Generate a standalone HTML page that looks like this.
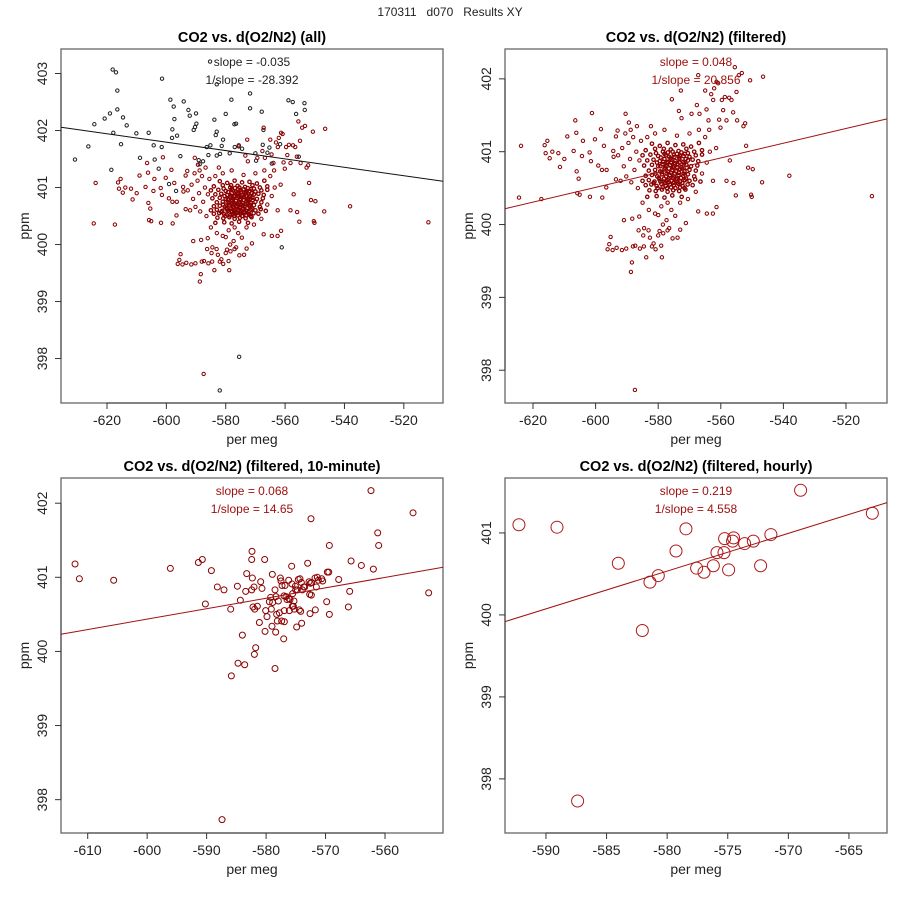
<!DOCTYPE html>
<html><head><meta charset="utf-8"><style>
body{margin:0;background:#fff;}
svg text{font-family:"Liberation Sans",sans-serif;}
</style></head><body>
<svg id="chart" width="900" height="900" viewBox="0 0 900 900" xmlns="http://www.w3.org/2000/svg">
<rect width="900" height="900" fill="#fff"/>
<text x="450" y="16" text-anchor="middle" font-size="12" fill="#222" xml:space="preserve">170311   d070   Results XY</text>
</svg>
<script>
// ---- data (data units: x = per meg, y = ppm) ----
const outlierPts = [[-630.79,401.49],[-626.29,401.72],[-624.27,402.11],[-620.79,402.21],[-619.0,402.30],[-618.09,403.07],[-616.97,403.02],[-617.87,401.96],[-616.52,402.70],[-616.52,402.37],[-615.28,401.76],[-614.61,402.23],[-613.37,402.09],[-618.54,401.31],[-610.11,401.95],[-608.88,401.52],[-605.96,401.96],[-604.27,401.74],[-603.93,401.49],[-602.58,401.33],[-601.57,401.71],[-601.46,402.91],[-599.10,401.06],[-598.65,402.54],[-598.09,401.87],[-597.98,402.02],[-597.53,402.42],[-597.30,402.20],[-596.40,401.91],[-596.74,400.94],[-595.28,401.55],[-594.16,402.51],[-592.58,402.36],[-592.13,402.26],[-590.79,402.01],[-590.34,402.06],[-589.89,402.12],[-590.00,402.30],[-589.10,401.48],[-588.76,401.41],[-587.64,401.46],[-586.40,401.71],[-585.84,401.57],[-585.17,401.74],[-583.82,402.19],[-583.37,401.92],[-583.03,401.98],[-583.03,401.56],[-581.91,401.59],[-580.90,401.84],[-581.35,401.73],[-580.00,402.29],[-578.65,401.60],[-578.09,402.54],[-577.08,402.11],[-576.52,402.12],[-576.97,401.71],[-575.60,401.74],[-575.49,398.03],[-574.49,401.68],[-571.80,402.65],[-571.80,402.39],[-570.00,401.60],[-569.78,401.47],[-567.87,402.33],[-567.53,401.75],[-567.30,402.01],[-565.96,401.61],[-565.28,401.70],[-564.49,401.42],[-561.68,401.76],[-561.12,399.95],[-558.88,402.53],[-557.42,402.50],[-556.29,402.29],[-555.39,401.54],[-553.48,402.48],[-553.37,402.36],[-582.02,397.44],[-585.28,403.21],[-583.03,402.81]];

const filteredOuter = [[-624.47,400.37],[-623.83,401.08],[-617.34,400.35],[-616.28,401.09],[-615.96,400.98],[-615.42,401.15],[-614.68,400.91],[-613.83,401.00],[-611.91,400.98],[-611.38,400.79],[-610.00,400.90],[-609.04,401.21],[-607.02,401.01],[-606.49,401.43],[-606.17,401.26],[-606.06,400.73],[-605.85,400.43],[-605.42,400.63],[-605.10,400.41],[-604.36,400.94],[-604.04,401.15],[-601.91,400.99],[-601.81,400.38],[-601.49,400.87],[-601.17,401.53],[-600.21,401.17],[-599.15,400.81],[-598.30,401.31],[-597.97,400.75],[-597.87,400.37],[-597.34,401.08],[-596.59,400.51],[-596.49,400.75],[-596.17,399.66],[-595.63,399.73],[-595.21,399.83],[-594.57,399.65],[-594.36,401.01],[-594.25,400.93],[-593.51,401.21],[-593.29,399.68],[-592.97,401.29],[-591.59,399.65],[-590.95,400.06],[-590.42,401.52],[-590.21,399.67],[-589.36,401.40],[-588.40,399.48],[-588.72,399.35],[-588.29,400.08],[-588.08,399.70],[-587.44,397.73],[-587.33,399.71],[-586.27,399.92],[-586.06,400.11],[-585.85,399.67],[-584.78,399.85],[-584.57,399.70],[-583.83,399.55],[-583.08,399.92],[-582.65,399.82],[-582.33,401.35],[-581.48,399.74],[-580.84,399.66],[-579.99,400.13],[-579.57,399.91],[-579.04,399.71],[-578.82,399.55],[-578.40,399.88],[-577.34,400.06],[-577.02,399.92],[-575.63,401.72],[-575.41,399.81],[-574.56,400.12],[-573.82,399.82],[-573.39,401.56],[-572.76,401.84],[-572.55,401.46],[-572.97,399.93],[-571.16,400.02],[-569.35,401.52],[-567.65,401.64],[-567.22,400.18],[-566.80,401.52],[-564.99,401.84],[-564.56,401.58],[-564.46,400.15],[-563.93,401.43],[-563.71,401.30],[-563.07,401.79],[-562.54,400.15],[-562.44,401.71],[-562.12,401.87],[-561.37,400.24],[-560.84,401.94],[-560.52,401.44],[-560.10,401.33],[-559.67,401.71],[-559.25,401.57],[-558.71,401.75],[-558.18,401.43],[-558.18,400.60],[-557.33,401.74],[-557.12,400.88],[-556.59,401.71],[-556.05,401.54],[-555.95,400.57],[-555.52,402.16],[-555.20,400.40],[-554.99,401.82],[-554.78,401.43],[-554.24,402.05],[-553.29,402.08],[-552.76,401.35],[-552.22,401.39],[-551.91,401.08],[-551.27,400.78],[-550.64,401.98],[-550.32,400.41],[-550.11,400.38],[-549.79,400.76],[-546.81,400.58],[-546.50,402.03],[-538.10,400.67],[-511.72,400.39],[-567.22,402.05],[-561.37,401.96],
[-593.5,400.62],[-592.8,400.95],[-592,400.6],[-591.5,401.05],[-591,400.8],[-590.2,400.66],[-589.5,401.12],[-589,400.9],[-588.6,400.58],[-588,401.2],[-587.6,400.75],[-587,401.0],[-586.5,400.5],[-586,400.88],[-585.5,401.15],[-590.5,401.25],[-588.8,401.3],[-586.8,401.35],[-585,400.3],[-583,400.2],[-581,400.15],[-579,400.25],[-577,400.3],[-575.8,400.2],[-573,400.3],[-570.5,400.35],[-568,400.45],[-566,400.7],[-564.5,400.85],[-563.5,401.0],[-562.5,400.6],[-561.5,401.05],[-565,401.2],[-567,401.3],[-570,401.25],[-574,401.22],[-578,401.3],[-581,401.25],[-583.5,401.2],[-584.5,399.95],[-582,399.7],[-580,399.85],[-578.5,400.0],[-576.5,399.95]];

const filteredCore = [[-582,401.11],[-579.5,401.08],[-577,401.12],[-574.5,401.09],[-572,401.1],[-569.5,401.07],[-567,401.12],
[-584,401.02],[-581,401.04],[-578.5,401.0],[-576,401.03],[-573.5,401.01],[-571,401.04],[-568.5,401.0],[-566,401.02],
[-585,400.95],[-582.5,400.96],[-580,400.94],[-578,400.97],[-576.5,400.93],[-575,400.96],[-573,400.94],[-571.5,400.97],[-570,400.93],[-568,400.95],[-566,400.96],
[-583.5,400.88],[-581.5,400.89],[-579.5,400.87],[-578,400.9],[-577,400.86],[-575.8,400.89],[-574.5,400.87],[-573.2,400.9],[-572,400.86],[-570.5,400.88],[-569,400.89],[-567.2,400.87],
[-584.5,400.81],[-582,400.82],[-580,400.8],[-578.6,400.83],[-577.4,400.8],[-576.2,400.82],[-575,400.8],[-573.8,400.83],[-572.6,400.79],[-571,400.82],[-569.5,400.8],[-567.5,400.81],
[-583,400.74],[-581,400.75],[-579.4,400.73],[-578,400.76],[-576.8,400.72],[-575.5,400.75],[-574.3,400.73],[-573,400.76],[-571.6,400.73],[-570,400.75],[-568,400.74],
[-584,400.67],[-582,400.68],[-580.3,400.66],[-578.8,400.69],[-577.5,400.66],[-576.3,400.68],[-575,400.66],[-573.5,400.68],[-572,400.67],[-570.5,400.69],[-568.5,400.66],
[-585,400.6],[-583,400.61],[-581.2,400.59],[-579.6,400.62],[-578.2,400.59],[-577,400.61],[-575.7,400.6],[-574.4,400.62],[-573,400.59],[-571.5,400.61],[-570,400.6],[-568.2,400.62],[-566.5,400.59],
[-584,400.54],[-582.2,400.55],[-580.5,400.53],[-579,400.56],[-577.6,400.53],[-576.3,400.55],[-575,400.54],[-573.6,400.56],[-572.2,400.53],[-570.6,400.55],[-569,400.54],
[-582.8,400.47],[-580.8,400.46],[-578.8,400.48],[-577,400.45],[-575.2,400.47],[-573.3,400.46],[-571.3,400.48],
[-583.5,400.38],[-580.5,400.39],[-578,400.37],[-575.5,400.4],[-572.5,400.38]];

const filteredCoreDense = [[-580.7,400.98],[-579.2,400.92],[-578.2,401.04],[-577.6,400.95],[-576.9,400.99],[-576.1,400.91],[-575.4,401.0],[-574.8,400.93],[-574.0,400.97],[-573.3,400.92],[-572.6,400.99],[-571.9,400.94],[-571.2,400.9],[-570.5,400.98],
[-580.4,400.85],[-579.3,400.8],[-578.4,400.86],[-577.8,400.78],[-577.1,400.84],[-576.6,400.77],[-575.9,400.85],[-575.2,400.78],[-574.6,400.84],[-573.9,400.78],[-573.2,400.85],[-572.4,400.77],[-571.7,400.84],[-570.9,400.78],
[-580.9,400.7],[-579.8,400.64],[-578.9,400.72],[-578.1,400.63],[-577.3,400.7],[-576.7,400.63],[-576.0,400.71],[-575.3,400.64],[-574.7,400.7],[-574.0,400.63],[-573.4,400.71],[-572.7,400.64],[-571.9,400.7],[-571.1,400.63],
[-581.5,400.57],[-580.2,400.5],[-579.3,400.59],[-578.6,400.51],[-577.9,400.57],[-577.2,400.5],[-576.6,400.58],[-575.9,400.51],[-575.2,400.57],[-574.5,400.5],[-573.8,400.58],[-573.0,400.51],[-572.3,400.57],[-571.6,400.5]];

const tenMinX = [-612.13,-611.40,-605.63,-596.10,-591.39,-590.72,-590.21,-589.20,-588.20,-587.08,-587.41,-585.95,-585.84,-584.83,-584.72,-584.33,-583.99,-583.60,-583.43,-583.26,-582.42,-582.37,-582.31,-582.42,-582.20,-582.03,-581.97,-581.92,-581.75,-581.47,-581.13,-580.91,-580.69,-580.24,-580.18,-580.07,-579.85,-579.45,-579.23,-579.12,-579.01,-578.95,-578.90,-578.50,-578.50,-578.39,-578.34,-578.22,-578.11,-577.94,-577.77,-577.60,-577.49,-577.38,-577.32,-577.04,-576.99,-576.93,-576.93,-576.82,-576.65,-576.48,-576.20,-576.15,-576.09,-575.98,-575.70,-575.64,-575.59,-575.53,-575.42,-575.31,-575.25,-575.08,-575.03,-574.86,-574.74,-574.58,-574.41,-574.30,-574.18,-574.07,-574.02,-573.90,-573.68,-573.51,-573.01,-572.78,-572.67,-572.61,-572.56,-572.45,-572.39,-572.34,-571.77,-571.72,-571.55,-571.38,-571.21,-570.65,-570.48,-569.81,-569.70,-569.47,-569.36,-569.36,-567.79,-566.16,-565.94,-565.71,-563.98,-562.36,-561.96,-561.23,-561.07,-555.29,-552.66];
const tenMinY = [401.18,400.98,400.96,401.12,401.20,401.24,400.64,401.09,400.87,400.83,397.73,400.57,399.67,400.88,399.84,400.69,400.22,399.82,400.81,401.05,401.24,401.35,400.99,400.83,400.60,400.87,399.96,400.57,400.05,400.61,400.39,400.94,400.85,401.24,400.27,400.55,400.47,400.67,400.73,400.57,400.34,401.04,400.66,400.83,399.77,400.26,400.74,400.50,400.41,400.68,400.52,400.99,400.95,400.41,400.89,400.17,400.75,400.55,400.40,400.89,400.74,400.70,400.96,400.71,400.55,400.70,401.15,400.91,400.61,400.78,400.61,400.68,400.57,400.88,400.83,400.33,400.83,400.97,400.56,400.98,400.54,400.93,400.38,400.83,400.87,400.87,401.19,400.94,400.77,400.51,400.92,401.79,400.76,400.93,400.99,400.56,400.87,401.00,400.96,400.98,400.95,400.67,401.07,401.07,401.43,400.50,400.97,400.60,400.81,401.22,401.16,402.17,401.11,401.60,401.43,401.87,400.79];

const hourlyX = [-592.23,-589.09,-578.45,-584.03,-579.27,-580.73,-581.42,-582.05,-587.39,-577.57,-576.96,-576.19,-575.89,-575.31,-575.26,-574.93,-574.60,-574.52,-573.61,-572.89,-572.29,-571.44,-568.99,-563.07];
const hourlyY = [401.10,401.07,401.05,400.63,400.78,400.48,400.40,399.81,397.73,400.57,400.52,400.60,400.76,400.76,400.93,400.55,400.90,400.94,400.87,400.90,400.60,400.98,401.52,401.24];

const xTicksWide = [-620,-600,-580,-560,-540,-520];
const xTicks10 = [-610,-600,-590,-580,-570,-560];
const xTicksHourly = [-590,-585,-580,-575,-570,-565];
const yTicksAll = [398,399,400,401,402,403];
const yTicksFilt = [398,399,400,401,402];
const yTicksHourly = [398,399,400,401];

const lineSlopes = [-0.00737, 0.01011, 0.01407, 0.04607];
const lineIntercepts = [397.374, 406.576, 408.878, 427.255];
const slopeLabels = ["slope = -0.035","slope = 0.048","slope = 0.068","slope = 0.219"];
const invSlopeLabels = ["1/slope = -28.392","1/slope = 20.856","1/slope = 14.65","1/slope = 4.558"];
const panelTitles = ["CO2 vs. d(O2/N2) (all)","CO2 vs. d(O2/N2) (filtered)","CO2 vs. d(O2/N2) (filtered, 10-minute)","CO2 vs. d(O2/N2) (filtered, hourly)"];

// ---- drawing ----
const NS = "http://www.w3.org/2000/svg";
const svg = document.getElementById("chart");
const RED = "#8b0000";
function mk(tag, attrs, parent){
  const e = document.createElementNS(NS, tag);
  for (const k in attrs) e.setAttribute(k, attrs[k]);
  (parent||svg).appendChild(e);
  return e;
}
const panels = [
  {box:[61,49,443,403], xd:[-635.5,-506.8], yd:[397.22,403.43], xt:xTicksWide, yt:yTicksAll, r:1.7, txt:"#222", lc:"#111"},
  {box:[505,49,887,403], xd:[-628.95,-506.9], yd:[397.55,402.41], xt:xTicksWide, yt:yTicksFilt, r:1.7, txt:"#a01010", lc:"#a01010"},
  {box:[61,478,443,833], xd:[-614.49,-550.25], yd:[397.55,402.34], xt:xTicks10, yt:yTicksFilt, r:3, txt:"#a01010", lc:"#a01010"},
  {box:[505,478,887,833], xd:[-593.38,-561.86], yd:[397.34,401.67], xt:xTicksHourly, yt:yTicksHourly, r:6, txt:"#a01010", lc:"#a01010"}
];
panels.forEach((p, i) => {
  const [x0,y0,x1,y1] = p.box;
  const sx = v => x0 + (v - p.xd[0]) / (p.xd[1]-p.xd[0]) * (x1-x0);
  const sy = v => y1 - (v - p.yd[0]) / (p.yd[1]-p.yd[0]) * (y1-y0);
  const g = mk("g", {});
  
  
  const cx = (x0+x1)/2;
  const t = mk("text", {x:cx, y:y0-7, "text-anchor":"middle", "font-size":"14.5", "font-weight":"bold", fill:"#000"}, g);
  t.textContent = panelTitles[i];
  
  
  const bx = mk("rect", {x:x0, y:y0, width:x1-x0, height:y1-y0, fill:"none", stroke:"#666", "stroke-width":"1.3"}, g);
  
  
  const xa = mk("g", {}, g);
  
  
  mk("line", {x1:sx(p.xt[0]), x2:sx(p.xt[p.xt.length-1]), y1:y1, y2:y1, stroke:"#333"}, xa);
  p.xt.forEach(v => {
    mk("line", {x1:sx(v), x2:sx(v), y1:y1, y2:y1+6, stroke:"#333"}, xa);
    const tl = mk("text", {x:sx(v), y:y1+22, "text-anchor":"middle", "font-size":"14", fill:"#222"}, xa);
    tl.textContent = String(v);
    
    
  });
  const xl = mk("text", {x:cx, y:y1+41, "text-anchor":"middle", "font-size":"14", fill:"#222"}, g);
  xl.textContent = "per meg";
  
  
  const ya = mk("g", {}, g);
  
  
  mk("line", {x1:x0, x2:x0, y1:sy(p.yt[0]), y2:sy(p.yt[p.yt.length-1]), stroke:"#333"}, ya);
  p.yt.forEach(v => {
    mk("line", {x1:x0, x2:x0-6, y1:sy(v), y2:sy(v), stroke:"#333"}, ya);
    const tx = x0-14, ty = sy(v);
    const tl = mk("text", {x:tx, y:ty, "text-anchor":"middle", "font-size":"14", fill:"#222", transform:`rotate(-90 ${tx} ${ty})`}, ya);
    tl.textContent = String(v);
    
    
  });
  const yx = x0-32, yy = (y0+y1)/2;
  const yl = mk("text", {x:yx, y:yy, "text-anchor":"middle", "font-size":"14", fill:"#222", transform:`rotate(-90 ${yx} ${yy})`}, g);
  yl.textContent = "ppm";
  
  
  const pts = mk("g", {fill:"none", "stroke-width":"1"}, g);
  
  
  function dot(x, y, col, w){
    const c = mk("circle", {cx:sx(x), cy:sy(y), r:p.r, stroke:col}, pts);
    if (w) c.setAttribute("stroke-width", w);
    
    
  }
  if (i === 0) outlierPts.forEach(d => dot(d[0], d[1], "#222"));
  if (i < 2) {
    filteredOuter.forEach(d => dot(d[0], d[1], RED));
    filteredCore.forEach(d => dot(d[0], d[1], RED, 1.3));
    filteredCoreDense.forEach(d => dot(d[0], d[1], RED, 1.3));
  }
  if (i === 2) tenMinX.forEach((x, k) => dot(x, tenMinY[k], RED));
  if (i === 3) hourlyX.forEach((x, k) => dot(x, hourlyY[k], "#b01818"));
  const la = p.xd[0], lb = p.xd[1];
  const rl = mk("line", {x1:sx(la), y1:sy(lineIntercepts[i] + lineSlopes[i]*la), x2:sx(lb), y2:sy(lineIntercepts[i] + lineSlopes[i]*lb), stroke:p.lc, "stroke-width":"1"}, g);
  
  
  const s1 = mk("text", {x:(x0+x1)/2, y:y0+17, "text-anchor":"middle", "font-size":"12", fill:p.txt}, g);
  s1.textContent = slopeLabels[i];
  
  
  const s2 = mk("text", {x:(x0+x1)/2, y:y0+35, "text-anchor":"middle", "font-size":"12", fill:p.txt}, g);
  s2.textContent = invSlopeLabels[i];
  
  
});
</script>
</body></html>
